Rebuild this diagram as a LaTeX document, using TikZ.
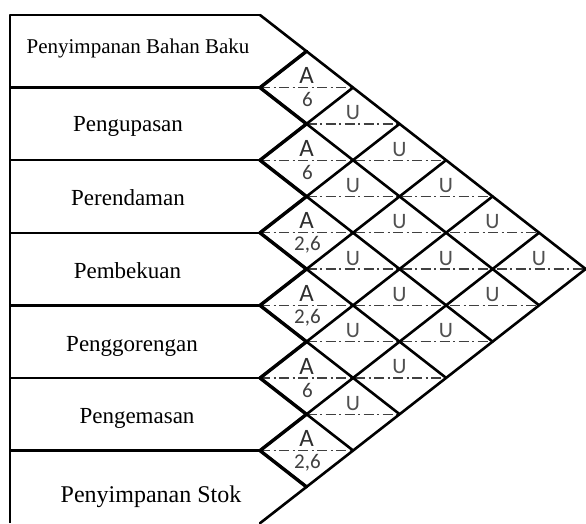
\documentclass[tikz,border=0pt]{standalone}
\usepackage{fontspec}
\setmainfont{Liberation Serif}
\newfontfamily\codefont{Carlito}
\usetikzlibrary{calc}

\definecolor{inkA}{HTML}{2e2e2e}
\definecolor{inkU}{HTML}{505050}
\definecolor{inkN}{HTML}{404040}

\tikzset{
  gridline/.style={line width=2.6pt, line cap=round},
  edgeline/.style={line width=3.4pt, line cap=round},
  rowline/.style={line width=2.6pt},
  midline/.style={line width=1.3pt, draw=inkN,
    dash pattern=on 10pt off 3.5pt on 2pt off 3.5pt},
  rowlabel/.style={anchor=base, inner sep=0pt},
  closeness/.style={font=\codefont\fontsize{25}{25}\selectfont, text=inkA, inner sep=0pt},
  reason/.style={font=\codefont\fontsize{21}{21}\selectfont, text=inkN, inner sep=0pt},
  usual/.style={font=\codefont\fontsize{22}{22}\selectfont, text=inkU, inner sep=0pt}
}

\begin{document}
\begin{tikzpicture}[x=1pt, y=1pt, line join=round]
\useasboundingbox (0,0) rectangle (586,523);

% grid points: row boundaries on the left, upper and lower rims of the chart
\foreach \k in {0,...,7}{
  \coordinate (B\k) at (260, 508-72.6*\k);
  \coordinate (W\k) at (10, 508-72.6*\k);
  \coordinate (U\k) at (260+46.5*\k, 508-36.3*\k);
  \coordinate (L\k) at (260+46.5*\k, 36.3*\k);
}
\coordinate (Wbot) at (10,0);

% activity boxes
\draw[rowline] (Wbot) -- (W0) -- (B0);
\foreach \k in {1,...,6}{ \draw[rowline] (W\k) -- (B\k); }

% horizontal centre lines of the relationship diamonds
\foreach \s in {3,...,13}{
  \pgfmathtruncatemacro{\dmin}{isodd(\s) ? 1 : 2}
  \pgfmathtruncatemacro{\dmax}{min(\s-2,14-\s)}
  \coordinate (Dl\s) at (260+46.5*\dmin-46.5, 508-36.3*\s+36.3);
  \coordinate (Dr\s) at (260+46.5*\dmax+46.5, 508-36.3*\s+36.3);
  \draw[midline] (Dl\s) -- (Dr\s);
}

% diagonal grid
\foreach \k in {0,...,6}{
  \pgfmathtruncatemacro{\e}{7-\k}
  \draw[gridline] (B\k) -- (L\e);
}
\foreach \k in {1,...,7}{ \draw[gridline] (B\k) -- (U\k); }

% heavier left edges of the first diamonds
\foreach \k in {1,...,6}{
  \coordinate (Tk\k) at ($(B\k)+(46.5,36.3)$);
  \coordinate (Bk\k) at ($(B\k)+(46.5,-36.3)$);
  \draw[edgeline] (Tk\k) -- (B\k) -- (Bk\k);
}

% relationship codes
\foreach \i/\r in {1/6, 2/6, 3/{2,6}, 4/{2,6}, 5/6, 6/{2,6}}{
  \pgfmathtruncatemacro{\s}{2*\i+1}
  \node[closeness] (A\i) at (306.5, 508-36.3*\s+36.3+12) {A};
  \node[reason] (R\i) at (307.5, 508-36.3*\s+36.3-12) {\r};
}
\foreach \i in {1,...,5}{
  \pgfmathtruncatemacro{\jstart}{\i+2}
  \foreach \j in {\jstart,...,7}{
    \pgfmathtruncatemacro{\s}{\i+\j}
    \pgfmathtruncatemacro{\d}{\j-\i}
    \node[usual] (U\i-\j) at (260+46.5*\d, 508-36.3*\s+36.3+11) {U};
  }
}

% activity names
\node[rowlabel, font=\fontsize{21}{21}\selectfont] (act1) at (138, 469) {Penyimpanan Bahan Baku};
\node[rowlabel, font=\fontsize{23}{23}\selectfont] (act2) at (128, 391) {Pengupasan};
\node[rowlabel, font=\fontsize{23}{23}\selectfont] (act3) at (128, 318) {Perendaman};
\node[rowlabel, font=\fontsize{23}{23}\selectfont] (act4) at (127.5, 245) {Pembekuan};
\node[rowlabel, font=\fontsize{23}{23}\selectfont] (act5) at (132, 172) {Penggorengan};
\node[rowlabel, font=\fontsize{23}{23}\selectfont] (act6) at (137, 100) {Pengemasan};
\node[rowlabel, font=\fontsize{24}{24}\selectfont] (act7) at (151, 21) {Penyimpanan Stok};
\end{tikzpicture}
\end{document}
